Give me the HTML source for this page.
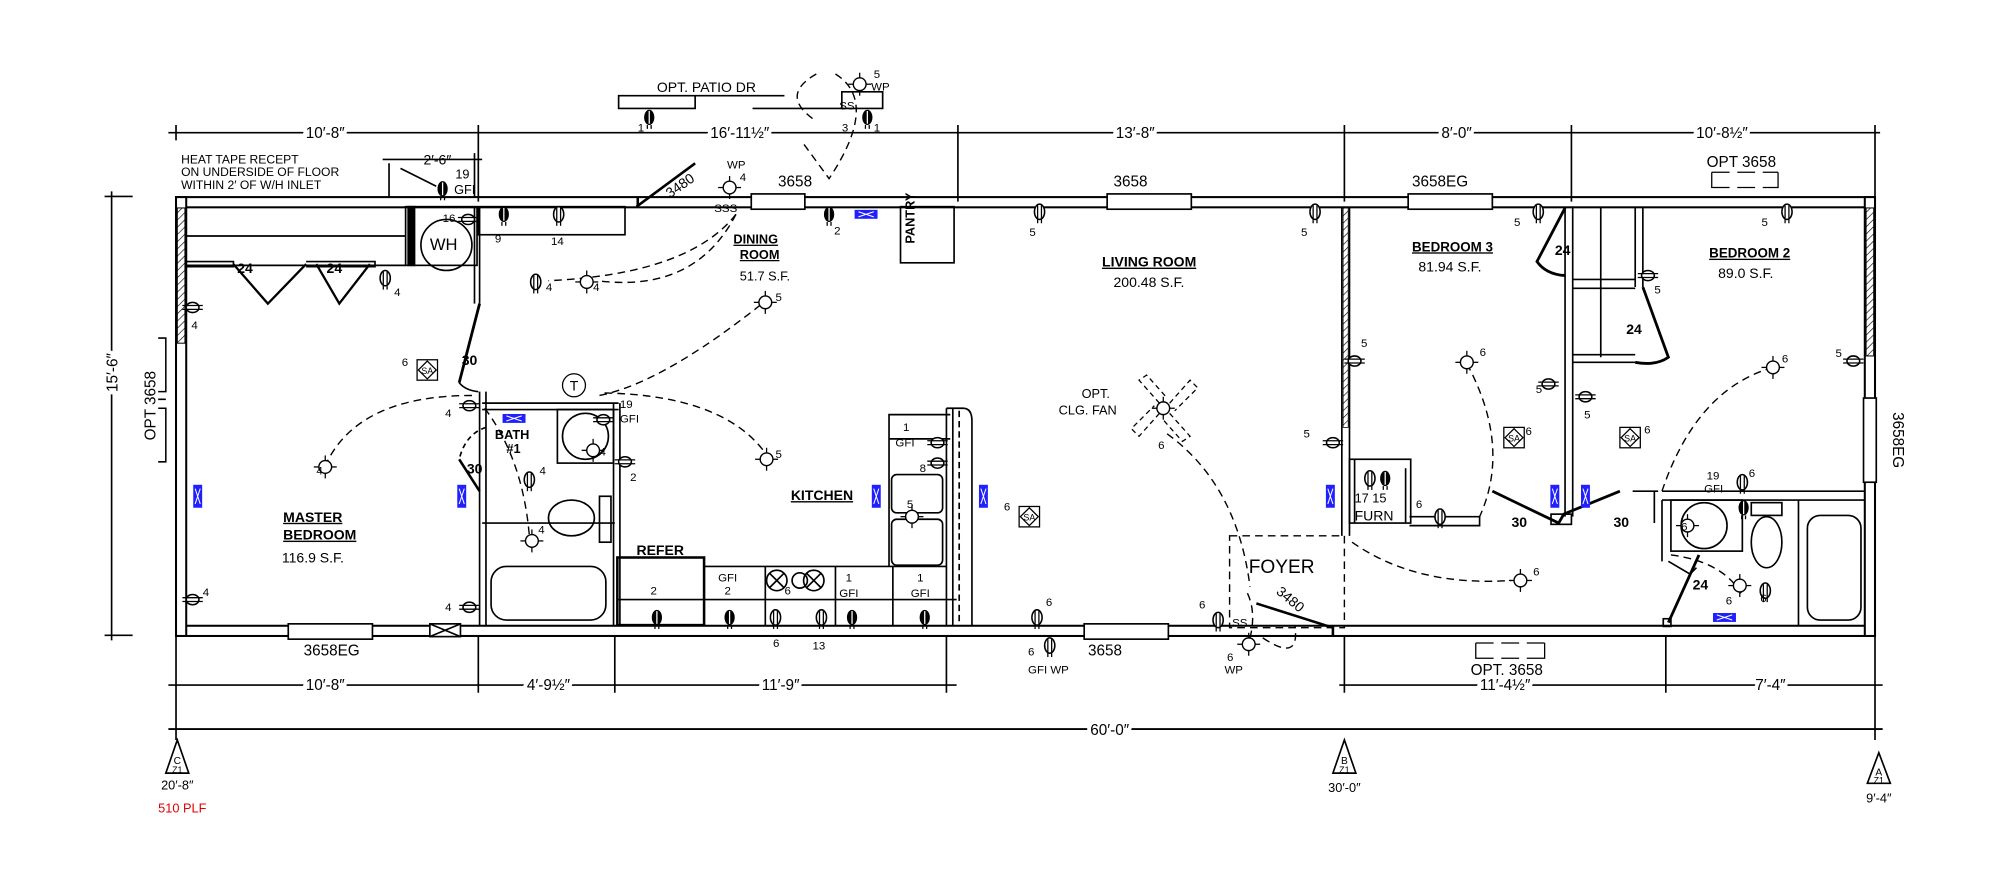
<!DOCTYPE html>
<html><head><meta charset="utf-8"><style>
html,body{margin:0;padding:0;background:#fff;}
svg{display:block;}
text{font-family:"Liberation Sans",sans-serif;fill:#000;}
</style></head><body>
<svg width="2000" height="879" viewBox="0 0 1568 689" preserveAspectRatio="none" xmlns="http://www.w3.org/2000/svg">
<defs>
<pattern id="h" width="4" height="4" patternUnits="userSpaceOnUse" patternTransform="rotate(45)"><line x1="0" y1="0" x2="0" y2="4" stroke="#000" stroke-width="1"/></pattern>
<g id="r"><ellipse cx="0" cy="0" rx="4" ry="6" fill="#fff" stroke="#000" stroke-width="1.2"/><line x1="-1.5" y1="-5" x2="-1.5" y2="5" stroke="#000"/><line x1="1.5" y1="-5" x2="1.5" y2="5" stroke="#000"/><line x1="-1.5" y1="6" x2="-1.5" y2="9" stroke="#000"/><line x1="1.5" y1="6" x2="1.5" y2="9" stroke="#000"/></g>
<g id="rb"><ellipse cx="0" cy="0" rx="4" ry="6" fill="#000"/><line x1="0" y1="-5" x2="0" y2="5" stroke="#fff"/><line x1="-1.5" y1="6" x2="-1.5" y2="9" stroke="#000"/><line x1="1.5" y1="6" x2="1.5" y2="9" stroke="#000"/></g>
<g id="rw"><ellipse cx="0" cy="0" rx="5" ry="4" fill="#fff" stroke="#000" stroke-width="1.2"/><line x1="-8" y1="-1.5" x2="8" y2="-1.5" stroke="#000"/><line x1="-8" y1="1.5" x2="8" y2="1.5" stroke="#000"/></g>
<g id="l"><circle r="5" fill="#fff" stroke="#000" stroke-width="1.1"/><line x1="-9" y1="0" x2="-5" y2="0" stroke="#000"/><line x1="5" y1="0" x2="9" y2="0" stroke="#000"/><line x1="0" y1="-9" x2="0" y2="-5" stroke="#000"/><line x1="0" y1="5" x2="0" y2="9" stroke="#000"/></g>
<g id="sa"><rect x="-8" y="-8" width="16" height="16" fill="#fff" stroke="#000"/><path d="M0 -7 L7 0 L0 7 L-7 0Z" fill="none" stroke="#000"/><text x="0" y="3" font-size="7" text-anchor="middle">SA</text></g>
<g id="hv"><rect x="-3.5" y="-9" width="7" height="18" fill="#2020ff"/><path d="M-2 -6 L2 6 M2 -6 L-2 6" stroke="#fff" stroke-width="0.8"/></g>
<g id="hh"><rect x="-9" y="-3.5" width="18" height="7" fill="#2020ff"/><path d="M-6 -2 L6 2 M-6 2 L6 -2" stroke="#fff" stroke-width="0.8"/></g>
</defs>
<g stroke="#000" fill="none" stroke-width="1.3">
<line x1="132" y1="104" x2="1474" y2="104"/>
<path d="M138 98v12M375 98v60M751 98v60M1054 98v60M1232 98v60M1470 98v60"/>
<rect x="138" y="154.5" width="1332" height="8" stroke-width="1.6"/>
<rect x="138" y="490.5" width="1332" height="8" stroke-width="1.6"/>
<rect x="138" y="154.5" width="8" height="344" stroke-width="1.6" fill="#fff"/>
<rect x="1462" y="154.5" width="8" height="344" stroke-width="1.6" fill="#fff"/>
<rect x="139" y="163" width="6" height="106" fill="url(#h)" stroke-width="0.8"/>
<rect x="1463" y="163" width="6" height="116" fill="url(#h)" stroke-width="0.8"/>
<rect x="589" y="152" width="42" height="12" fill="#fff"/>
<rect x="868" y="152" width="66" height="12" fill="#fff"/>
<rect x="1104" y="152" width="66" height="12" fill="#fff"/>
<rect x="226" y="489" width="66" height="12" fill="#fff"/>
<rect x="850" y="489" width="66" height="12" fill="#fff"/>
<rect x="1461" y="312" width="10" height="66" fill="#fff"/>
<rect x="337" y="489" width="24" height="10" fill="#fff"/><path d="M337 489L361 499M361 489L337 499"/>
<path d="M499 162 L545 128 M500 155 L500 162" stroke-width="2"/>
<line x1="87.5" y1="150" x2="87.5" y2="502"/>
<path d="M82 154h22M82 498h22"/>
<path d="M124 265h6v42h-6M124 313h6v0M124 320h6v42h-6" stroke-width="1.2"/>
<line x1="132" y1="537" x2="750" y2="537"/>
<line x1="1050" y1="537" x2="1476" y2="537"/>
<line x1="132" y1="571.5" x2="1476" y2="571.5" stroke-width="1.5"/>
<path d="M138 498v82M375 498v45M482 498v45M742 498v45M1054 498v45M1306 498v45M1470 498v82"/>
<path d="M146 185H318M146 208H318"/>
<rect x="318" y="162" width="56" height="46"/>
<rect x="320" y="162" width="5" height="46" fill="#000"/>
<circle cx="350" cy="192" r="20"/>
<rect x="375" y="162" width="115" height="22"/>
<path d="M372 162V238 M376 162V238" />
<path d="M146 205h37v4h-37 M240 205h54v4h-54" />
<path d="M183 207 L210 238 L240 207 M290 207 L266 238 L248 207" stroke-width="1.8"/>
<path d="M376 238 L360 300" stroke-width="2.2"/>
<path d="M360 300 Q365 306 375 307"/>
<path d="M376 307V490 M381 307V490"/>
<path d="M378 316H485 M378 321H485"/>
<path d="M481 316V490 M486 316V490"/>
<rect x="437" y="321" width="44" height="42"/>
<circle cx="459" cy="342" r="18"/>
<path d="M378 410H482"/>
<rect x="385" y="444" width="90" height="42" rx="12"/>
<rect x="470" y="389" width="9" height="36"/>
<ellipse cx="448" cy="406" rx="18" ry="14"/>
<path d="M381 335 Q365 340 360 360" stroke-dasharray="4 3"/>
<path d="M360 360 L376 385" stroke-width="2"/>
<rect x="484" y="437" width="68" height="53" stroke-width="2"/>
<path d="M484 470H750 M552 444H742 M697 444V325H745 M697 344H745"/>
<rect x="699" y="372" width="40" height="30" rx="4"/>
<rect x="699" y="407" width="40" height="36" rx="4"/>
<path d="M600 444V490 M655 444V490 M700 444V490"/>
<circle cx="609" cy="455" r="8"/><circle cx="638" cy="455" r="8"/><circle cx="627" cy="455" r="6"/>
<path d="M603 449l12 12M615 449l-12 12M632 449l12 12M644 449l-12 12"/>
<path d="M742 320V490 M747 320V490 M742 320H755 Q762 320 762 330V490"/>
<line x1="752" y1="322" x2="752" y2="490" stroke-dasharray="5 3"/>
<rect x="706" y="162" width="42" height="44"/>
<g stroke-dasharray="6 4" stroke-width="1.1">
<path d="M577 168 Q540 215 430 220"/>
<path d="M577 168 Q545 230 468 220"/>
<path d="M470 310 Q520 300 600 236"/>
<path d="M474 308 Q570 310 602 358"/>
<path d="M370 310 Q280 310 255 365"/>
<path d="M380 320 Q410 360 415 420"/>
<path d="M640 58 Q610 75 640 95 M655 58 Q690 80 650 140 L628 110"/>
<path d="M915 340 Q970 380 980 460"/>
<path d="M1060 425 Q1110 460 1185 455"/>
<path d="M1150 285 Q1185 350 1160 405"/>
<path d="M1390 288 Q1330 305 1303 385"/>
<path d="M1310 435 Q1350 440 1365 465"/>
<path d="M978 465 Q985 480 980 500 M990 500 Q1020 520 1015 490"/>
<rect x="964" y="420" width="90" height="72"/>
</g>
<!-- ceiling fan blades -->
<g stroke-dasharray="4 3" stroke-width="1" transform="translate(913,320)">
<path d="M-4 -4 L-20 -22 L-14 -26 L2 -8"/>
<path d="M4 -4 L20 -22 L26 -16 L8 2"/>
<path d="M4 4 L20 22 L14 26 L-2 8"/>
<path d="M-4 4 L-20 22 L-26 16 L-8 -2"/>
</g>
<path d="M1052 162V420 M1058 162V420"/>
<rect x="1053" y="163" width="4" height="172" fill="url(#h)" stroke-width="0.6"/>
<rect x="1058" y="360" width="48" height="50"/>
<path d="M1062 360V410 M1102 367V410"/>
<path d="M1105 405H1160V412H1105"/>
<path d="M1170 385 L1222 410 L1226 403 L1270 385" stroke-width="2.2"/>
<rect x="1216" y="403" width="16" height="8"/>
<path d="M1227 162V405 M1233 162V405"/>
<path d="M1233 219H1282 M1233 226H1282 M1233 278H1282 M1233 284H1282"/>
<path d="M1255 162V280 M1282 162V225 M1288 162V225"/>
<path d="M1227 163 L1205 205 Q1212 215 1227 216" stroke-width="2.2"/>
<path d="M1288 225 L1308 280 Q1298 287 1282 284" stroke-width="2.2"/>
<path d="M1280 385 L1300 385 M1297 385V410"/>
<path d="M1303 385H1462 M1303 392H1462 M1303 392V440 M1410 392V490"/>
<rect x="1310" y="392" width="56" height="40"/>
<circle cx="1336" cy="412" r="18"/>
<ellipse cx="1385" cy="425" rx="12" ry="20"/>
<rect x="1373" y="394" width="24" height="10"/>
<rect x="1417" y="404" width="42" height="82" rx="10"/>
<path d="M1308 440 L1325 450 L1330 445" />
<path d="M1332 435 L1308 488" stroke-width="2.2"/>
<rect x="1304" y="485" width="6" height="6"/>
<path d="M985 473 L1045 492 M1045 490V498" stroke-width="2"/>
<path d="M485 75H545V85H485Z M545 75H615"/>
<path d="M590 85H692V72H660V85"/>
<path d="M1342 135v12h14 M1362 147h14 M1382 147h12v-12 M1342 135h14 M1362 135h14 M1382 135h12" stroke-width="1"/>
<path d="M1157 504v12h14 M1177 516h14 M1197 516h14v-12 M1157 504h14 M1177 504h14 M1197 504h14" stroke-width="1"/>
<path d="M314 132 L342 146"/>
<path d="M305 128V155 M372 120V155 M300 125H378"/>
<path d="M139 580 L130 606 L148 606 Z M1054 580 L1045 606 L1063 606Z M1473 590 L1464 614 L1482 614Z"/>
</g>
<g>
<use href="#rb" x="509" y="92"/><use href="#rb" x="680" y="92"/>
<use href="#l" x="674" y="66"/>
<use href="#rb" x="347" y="148"/>
<use href="#rb" x="395" y="168"/><use href="#r" x="438" y="168"/>
<use href="#rw" x="367" y="172"/>
<use href="#l" x="572" y="147"/>
<use href="#rb" x="650" y="168"/>
<use href="#r" x="815" y="166"/><use href="#r" x="1031" y="166"/>
<use href="#r" x="1206" y="166"/><use href="#r" x="1401" y="166"/>
<use href="#r" x="302" y="218"/>
<use href="#rw" x="151" y="241"/><use href="#rw" x="151" y="470"/>
<use href="#r" x="420" y="221"/><use href="#l" x="460" y="221"/>
<use href="#l" x="600" y="237"/><use href="#l" x="601" y="360"/>
<use href="#l" x="255" y="366"/><use href="#l" x="417" y="424"/>
<use href="#r" x="415" y="376"/>
<use href="#rw" x="368" y="318"/><use href="#rw" x="368" y="476"/>
<use href="#rw" x="473" y="329"/><use href="#rw" x="490" y="362"/>
<use href="#l" x="465" y="353"/>
<use href="#sa" x="335" y="290"/><use href="#sa" x="807" y="405"/>
<use href="#sa" x="1187" y="343"/><use href="#sa" x="1278" y="343"/>
<use href="#rw" x="735" y="347"/><use href="#rw" x="735" y="363"/>
<use href="#l" x="715" y="405"/>
<use href="#rb" x="515" y="484"/><use href="#rb" x="572" y="484"/><use href="#r" x="608" y="484"/><use href="#r" x="644" y="484"/><use href="#rb" x="668" y="484"/><use href="#rb" x="725" y="484"/>
<use href="#r" x="813" y="484"/><use href="#r" x="823" y="506"/>
<use href="#l" x="912" y="320"/>
<use href="#r" x="955" y="486"/><use href="#l" x="979" y="505"/>
<use href="#rw" x="1062" y="283"/><use href="#rw" x="1045" y="347"/>
<use href="#rw" x="1214" y="301"/><use href="#rw" x="1243" y="311"/>
<use href="#rw" x="1292" y="216"/><use href="#rw" x="1453" y="283"/>
<use href="#l" x="1150" y="284"/><use href="#l" x="1390" y="288"/>
<use href="#l" x="1192" y="455"/><use href="#l" x="1364" y="459"/>
<use href="#r" x="1074" y="375"/><use href="#rb" x="1086" y="375"/>
<use href="#r" x="1129" y="405"/>
<use href="#r" x="1366" y="378"/><use href="#rb" x="1367" y="398"/>
<use href="#l" x="1323" y="412"/>
<use href="#r" x="1384" y="463"/>
<use href="#hh" x="679" y="168"/><use href="#hh" x="403" y="328"/><use href="#hh" x="1352" y="484"/>
<use href="#hv" x="155" y="389"/><use href="#hv" x="362" y="389"/><use href="#hv" x="687" y="389"/><use href="#hv" x="771" y="389"/>
<use href="#hv" x="1043" y="389"/><use href="#hv" x="1219" y="389"/><use href="#hv" x="1243" y="389"/>
<circle cx="450" cy="302" r="9" fill="#fff" stroke="#000"/><text x="450" y="306" font-size="11" text-anchor="middle">T</text>
</g>
<g font-size="11">
<text x="255" y="108" text-anchor="middle" font-size="12" style="paint-order:stroke" stroke="#fff" stroke-width="6">10′-8″</text>
<text x="580" y="108" text-anchor="middle" font-size="12" style="paint-order:stroke" stroke="#fff" stroke-width="6">16′-11½″</text>
<text x="890" y="108" text-anchor="middle" font-size="12" style="paint-order:stroke" stroke="#fff" stroke-width="6">13′-8″</text>
<text x="1142" y="108" text-anchor="middle" font-size="12" style="paint-order:stroke" stroke="#fff" stroke-width="6">8′-0″</text>
<text x="1350" y="108" text-anchor="middle" font-size="12" style="paint-order:stroke" stroke="#fff" stroke-width="6">10′-8½″</text>
<text x="255" y="541" text-anchor="middle" font-size="12" style="paint-order:stroke" stroke="#fff" stroke-width="6">10′-8″</text>
<text x="430" y="541" text-anchor="middle" font-size="12" style="paint-order:stroke" stroke="#fff" stroke-width="6">4′-9½″</text>
<text x="612" y="541" text-anchor="middle" font-size="12" style="paint-order:stroke" stroke="#fff" stroke-width="6">11′-9″</text>
<text x="1180" y="541" text-anchor="middle" font-size="12" style="paint-order:stroke" stroke="#fff" stroke-width="6">11′-4½″</text>
<text x="1388" y="541" text-anchor="middle" font-size="12" style="paint-order:stroke" stroke="#fff" stroke-width="6">7′-4″</text>
<text x="870" y="576" text-anchor="middle" font-size="12" style="paint-order:stroke" stroke="#fff" stroke-width="6">60′-0″</text>
<text transform="translate(92,292) rotate(-90)" text-anchor="middle" font-size="12" style="paint-order:stroke" stroke="#fff" stroke-width="6">15′-6″</text>
<text transform="translate(122,318) rotate(-90)" text-anchor="middle" font-size="12">OPT 3658</text>
<text transform="translate(1484,345) rotate(90)" text-anchor="middle" font-size="12">3658EG</text>
<text x="515" y="72" font-size="11">OPT. PATIO DR</text>
<text x="142" y="128" font-size="9.5">HEAT TAPE RECEPT</text>
<text x="142" y="138" font-size="9.5">ON UNDERSIDE OF FLOOR</text>
<text x="142" y="148" font-size="9.5">WITHIN 2′ OF W/H INLET</text>
<text x="332" y="129" font-size="11">2′-6″</text>
<text x="357" y="140" font-size="10">19</text><text x="356" y="152" font-size="10">GFI</text>
<text x="610" y="146" font-size="12">3658</text>
<text x="873" y="146" font-size="12">3658</text>
<text x="1107" y="146" font-size="12">3658EG</text>
<text x="1338" y="131" font-size="12">OPT 3658</text>
<text x="238" y="514" font-size="12">3658EG</text>
<text x="853" y="514" font-size="12">3658</text>
<text x="1153" y="529" font-size="12">OPT. 3658</text>
<text x="575" y="191" font-size="10" font-weight="bold" text-decoration="underline">DINING</text>
<text x="580" y="203" font-size="10" font-weight="bold" text-decoration="underline">ROOM</text>
<text x="580" y="220" font-size="10">51.7 S.F.</text>
<text x="864" y="209" font-size="11" font-weight="bold" text-decoration="underline">LIVING ROOM</text>
<text x="873" y="225" font-size="11">200.48 S.F.</text>
<text x="1107" y="197" font-size="10.5" font-weight="bold" text-decoration="underline">BEDROOM 3</text>
<text x="1112" y="213" font-size="11">81.94 S.F.</text>
<text x="1340" y="202" font-size="10.5" font-weight="bold" text-decoration="underline">BEDROOM 2</text>
<text x="1347" y="218" font-size="11">89.0 S.F.</text>
<text x="222" y="409" font-size="11" font-weight="bold" text-decoration="underline">MASTER</text>
<text x="222" y="423" font-size="11" font-weight="bold" text-decoration="underline">BEDROOM</text>
<text x="221" y="441" font-size="11">116.9 S.F.</text>
<text x="620" y="392" font-size="11" font-weight="bold" text-decoration="underline">KITCHEN</text>
<text x="499" y="435" font-size="11" font-weight="bold">REFER</text>
<text x="388" y="344" font-size="10" font-weight="bold">BATH</text>
<text x="397" y="355" font-size="10" font-weight="bold">#1</text>
<text x="724" y="172" font-size="10" font-weight="bold" transform="rotate(-90 730 185)">PANTRY</text>
<text x="848" y="312" font-size="10">OPT.</text>
<text x="830" y="325" font-size="10">CLG. FAN</text>
<text x="979" y="449" font-size="15">FOYER</text>
<text x="1062" y="394" font-size="10">17 15</text>
<text x="1062" y="408" font-size="11">FURN</text>
<text x="186" y="214" font-size="11" font-weight="bold">24</text>
<text x="256" y="214" font-size="11" font-weight="bold">24</text>
<text x="362" y="286" font-size="11" font-weight="bold">30</text>
<text x="366" y="371" font-size="11" font-weight="bold">30</text>
<text x="1219" y="200" font-size="11" font-weight="bold">24</text>
<text x="1275" y="262" font-size="11" font-weight="bold">24</text>
<text x="1185" y="413" font-size="11" font-weight="bold">30</text>
<text x="1265" y="413" font-size="11" font-weight="bold">30</text>
<text x="1327" y="462" font-size="11" font-weight="bold">24</text>
<text x="521" y="148" font-size="11" transform="rotate(-35 535 145)">3480</text>
<text x="990" y="472" font-size="11" transform="rotate(40 1005 482)">3480</text>
<text x="570" y="132" font-size="9">WP</text><text x="580" y="142" font-size="9">4</text>
<text x="685" y="61" font-size="9">5</text><text x="683" y="71" font-size="9">WP</text>
<text x="500" y="103" font-size="9">1</text>
<text x="658" y="86" font-size="9">SS</text><text x="660" y="103" font-size="9">3</text><text x="685" y="103" font-size="9">1</text>
<text x="560" y="166" font-size="9">SSS</text>
<text x="388" y="190" font-size="9">9</text><text x="432" y="192" font-size="9">14</text>
<text x="347" y="174" font-size="9">16</text>
<text x="337" y="196" font-size="13">WH</text>
<text x="654" y="184" font-size="9">2</text>
<text x="807" y="185" font-size="9">5</text><text x="1020" y="185" font-size="9">5</text>
<text x="1187" y="177" font-size="9">5</text><text x="1381" y="177" font-size="9">5</text>
<text x="309" y="232" font-size="9">4</text><text x="150" y="258" font-size="9">4</text>
<text x="428" y="228" font-size="9">4</text><text x="465" y="228" font-size="9">4</text>
<text x="608" y="236" font-size="9">5</text><text x="608" y="359" font-size="9">5</text>
<text x="248" y="372" font-size="9">4</text>
<text x="315" y="287" font-size="9">6</text>
<text x="349" y="327" font-size="9">4</text>
<text x="486" y="320" font-size="9">19</text><text x="486" y="331" font-size="9">GFI</text>
<text x="470" y="357" font-size="9">4</text><text x="494" y="377" font-size="9">2</text>
<text x="423" y="372" font-size="9">4</text><text x="422" y="418" font-size="9">4</text>
<text x="349" y="479" font-size="9">4</text><text x="159" y="467" font-size="9">4</text>
<text x="708" y="338" font-size="9">1</text><text x="702" y="350" font-size="9">GFI</text>
<text x="721" y="370" font-size="9">8</text><text x="711" y="398" font-size="9">5</text>
<text x="510" y="466" font-size="9">2</text>
<text x="563" y="456" font-size="9">GFI</text><text x="568" y="466" font-size="9">2</text>
<text x="615" y="466" font-size="9">6</text>
<text x="663" y="456" font-size="9">1</text><text x="658" y="468" font-size="9">GFI</text>
<text x="719" y="456" font-size="9">1</text><text x="714" y="468" font-size="9">GFI</text>
<text x="606" y="507" font-size="9">6</text><text x="637" y="509" font-size="9">13</text>
<text x="787" y="400" font-size="9">6</text>
<text x="820" y="475" font-size="9">6</text>
<text x="806" y="514" font-size="9">6</text><text x="806" y="528" font-size="9">GFI WP</text>
<text x="908" y="352" font-size="9">6</text>
<text x="940" y="477" font-size="9">6</text><text x="966" y="491" font-size="9">SS</text>
<text x="962" y="518" font-size="9">6</text><text x="960" y="528" font-size="9">WP</text>
<text x="1067" y="272" font-size="9">5</text><text x="1022" y="343" font-size="9">5</text>
<text x="1160" y="279" font-size="9">6</text><text x="1397" y="284" font-size="9">6</text>
<text x="1196" y="341" font-size="9">6</text><text x="1289" y="340" font-size="9">6</text>
<text x="1204" y="308" font-size="9">5</text><text x="1242" y="328" font-size="9">5</text>
<text x="1297" y="230" font-size="9">5</text><text x="1439" y="280" font-size="9">5</text>
<text x="1110" y="398" font-size="9">6</text>
<text x="1202" y="451" font-size="9">6</text>
<text x="1338" y="376" font-size="9">19</text><text x="1336" y="386" font-size="9">GFI</text><text x="1371" y="374" font-size="9">6</text>
<text x="1318" y="416" font-size="9">6</text>
<text x="1353" y="474" font-size="9">6</text><text x="1380" y="472" font-size="9">6</text>
<text x="139" y="599" font-size="8" text-anchor="middle">C</text><text x="139" y="606" font-size="7" text-anchor="middle">Z1</text>
<text x="1054" y="599" font-size="8" text-anchor="middle">B</text><text x="1054" y="606" font-size="7" text-anchor="middle">Z1</text>
<text x="1473" y="608" font-size="8" text-anchor="middle">A</text><text x="1473" y="614" font-size="7" text-anchor="middle">Z1</text>
<text x="139" y="619" font-size="10" text-anchor="middle">20′-8″</text>
<text x="1054" y="621" font-size="10" text-anchor="middle">30′-0″</text>
<text x="1473" y="629" font-size="10" text-anchor="middle">9′-4″</text>
<text x="124" y="637" font-size="10" style="fill:#e00000">510 PLF</text>
</g>
</svg>
</body></html>
